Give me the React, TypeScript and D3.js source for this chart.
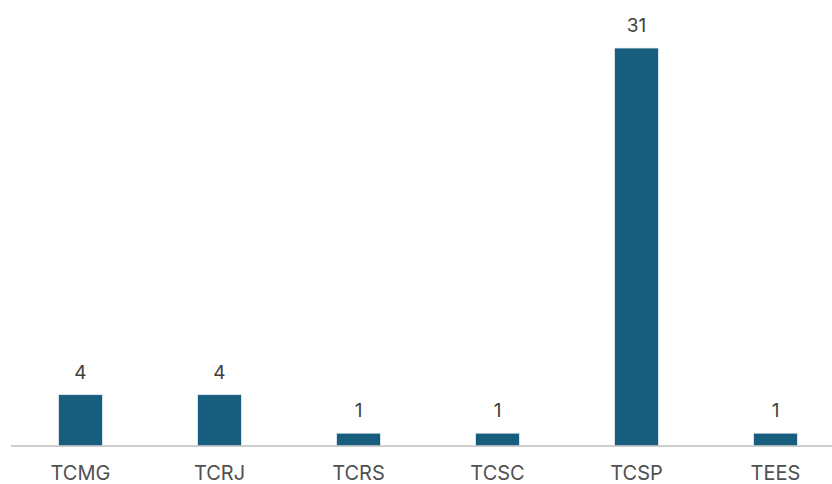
import React from "react";
import * as d3 from "d3";

const categories = ["TCMG", "TCRJ", "TCRS", "TCSC", "TCSP", "TEES"];
const values = [4, 4, 1, 1, 31, 1];

const W = 832;
const H = 484;

export default function App() {
  const x = d3.scaleBand<string>().domain(categories).range([11, 845]).paddingInner(0.684).paddingOuter(0.342);
  const y = d3.scaleLinear().domain([0, 31]).range([446, 48]);
  const bw = x.bandwidth();
  return (
    <svg width={W} height={H} style={{ position: "absolute", left: 0, top: 0, background: "#fff" }}
      fontFamily="Inter, sans-serif">
      {categories.map((c, i) => (
        <g key={c}>
          <rect x={x(c)!} y={y(values[i])} width={bw} height={y(0) - y(values[i])}
            fill="#175E7E" stroke="#e8eef2" strokeWidth={0.8} />
          <text x={x(c)! + bw / 2} y={y(values[i]) - 16} textAnchor="middle" fontSize={19} fill="#404040">
            {values[i]}
          </text>
          <text x={x(c)! + bw / 2} y={480} textAnchor="middle" fontSize={20} fill="#505050">
            {c}
          </text>
        </g>
      ))}
      <line x1={11} x2={832} y1={y(0)} y2={y(0)} stroke="#bfbfbf" strokeWidth={1.5} />
    </svg>
  );
}
